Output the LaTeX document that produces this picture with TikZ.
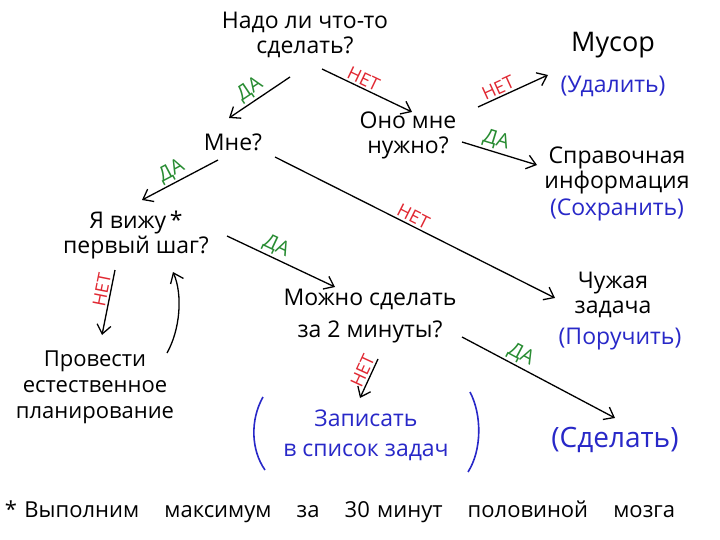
\documentclass[tikz,border=0pt]{standalone}
\usepackage{fontspec}
\setmainfont{Open Sans}
\usetikzlibrary{arrows.meta,calc}
\definecolor{inkblue}{RGB}{40,40,200}
\definecolor{inkgreen}{RGB}{40,140,50}
\definecolor{inkred}{RGB}{225,40,50}
\begin{document}
\begin{tikzpicture}[x=1pt,y=-1pt,
  txt/.style={font=\fontsize{23}{25}\selectfont, align=center, inner sep=0pt},
  act/.style={txt, text=inkblue},
  arr/.style={draw=black, line width=1.3pt, -{Straight Barb[length=9pt,width=14pt]}},
  yes/.style={font=\fontsize{20}{20}\selectfont, text=inkgreen, sloped, above, inner sep=2pt},
  no/.style={font=\fontsize{18}{18}\selectfont, text=inkred, sloped, above, inner sep=2pt},
  paren/.style={draw=inkblue, line width=1.6pt}
]
\useasboundingbox (0,0) rectangle (720,540);
\fill[white] (0,0) rectangle (720,540);

% nodes
\node[txt] (q1) at (305,35) {Надо ли что-то\\сделать?};
\node[txt] (mne) at (233,142) {Мне?};
\node[txt] (ono) at (408,135) {Оно мне\\нужно?};
\node[txt, font=\fontsize{27}{30}\selectfont] (musor) at (613,45) {Мусор};
\node[act] (udal) at (613,86) {(Удалить)};
\node[txt] (sprav) at (617,170) {Справочная\\информация};
\node[act] (sohr) at (617,210) {(Сохранить)};
\node[txt] (vizhu) at (136,235) {Я вижу\,*\\первый шаг?};
\node[txt, font=\fontsize{22}{26}\selectfont] (plan) at (95,387) {Провести\\естественное\\планирование};
\node[txt, font=\fontsize{23}{32}\selectfont] (mozhno) at (370,316) {Можно сделать\\за 2 минуты?};
\node[txt] (chuzh) at (613,295) {Чужая\\задача};
\node[act] (poruch) at (620,339) {(Поручить)};
\node[act, font=\fontsize{23}{30}\selectfont] (zapis) at (366,435) {Записать\\в список задач};
\node[act, font=\fontsize{28}{30}\selectfont] (sdelat) at (615,440) {(Сделать)};
\node[txt, font=\fontsize{22}{25}\selectfont, text width=670pt, align=left] (foot) at (340,512)
  {*~Выполним\hfill максимум\hfill за\hfill 30 минут\hfill половиной\hfill мозга};

% parentheses round "Записать в список задач"
\draw[paren] ([shift={(-103,-38)}]zapis.center) .. controls ([shift={(-116,-15)}]zapis.center) and ([shift={(-115,15)}]zapis.center) .. ([shift={(-101,35)}]zapis.center);
\draw[paren] ([shift={(104,-43)}]zapis.center) .. controls ([shift={(116,-20)}]zapis.center) and ([shift={(116,15)}]zapis.center) .. ([shift={(102,37)}]zapis.center);

% connectors
\draw[arr] ([shift={(-15,42)}]q1.center) -- node[yes, pos=0.55] {ДА} ([shift={(-4,-24)}]mne.center);
\draw[arr] ([shift={(17,34)}]q1.center) -- node[no, pos=0.42] {НЕТ} ([shift={(4,-23)}]ono.center);
\draw[arr] ([shift={(70,-28)}]ono.center) -- node[no, pos=0.34] {НЕТ} ([shift={(-65,-11)}]udal.center);
\draw[arr] ([shift={(54,7)}]ono.center) -- node[yes, pos=0.41] {ДА} ([shift={(-80,-5)}]sprav.center);
\draw[arr] ([shift={(-15,18)}]mne.center) -- node[yes, pos=0.54] {ДА} ([shift={(6,-35)}]vizhu.center);
\draw[arr] ([shift={(42,15)}]mne.center) -- node[no, pos=0.48] {НЕТ} ([shift={(-58,3)}]chuzh.center);
\draw[arr] ([shift={(91,1)}]vizhu.center) -- node[yes, pos=0.41] {ДА} ([shift={(-35,-29)}]mozhno.center);
\draw[arr] ([shift={(-21,35)}]vizhu.center) -- node[no, pos=0.33] {НЕТ} ([shift={(7,-52)}]plan.center);
\draw[arr] ([shift={(72,-34)}]plan.center) .. controls ([shift={(85,-57)}]plan.center) and ([shift={(88,-92)}]plan.center) .. ([shift={(37,37)}]vizhu.center);
\draw[arr] ([shift={(8,43)}]mozhno.center) -- node[no, pos=0.4] {НЕТ} ([shift={(-6,-37)}]zapis.center);
\draw[arr] ([shift={(92,21)}]mozhno.center) -- node[yes, pos=0.35] {ДА} ([shift={(0,-22)}]sdelat.center);
\end{tikzpicture}
\end{document}
